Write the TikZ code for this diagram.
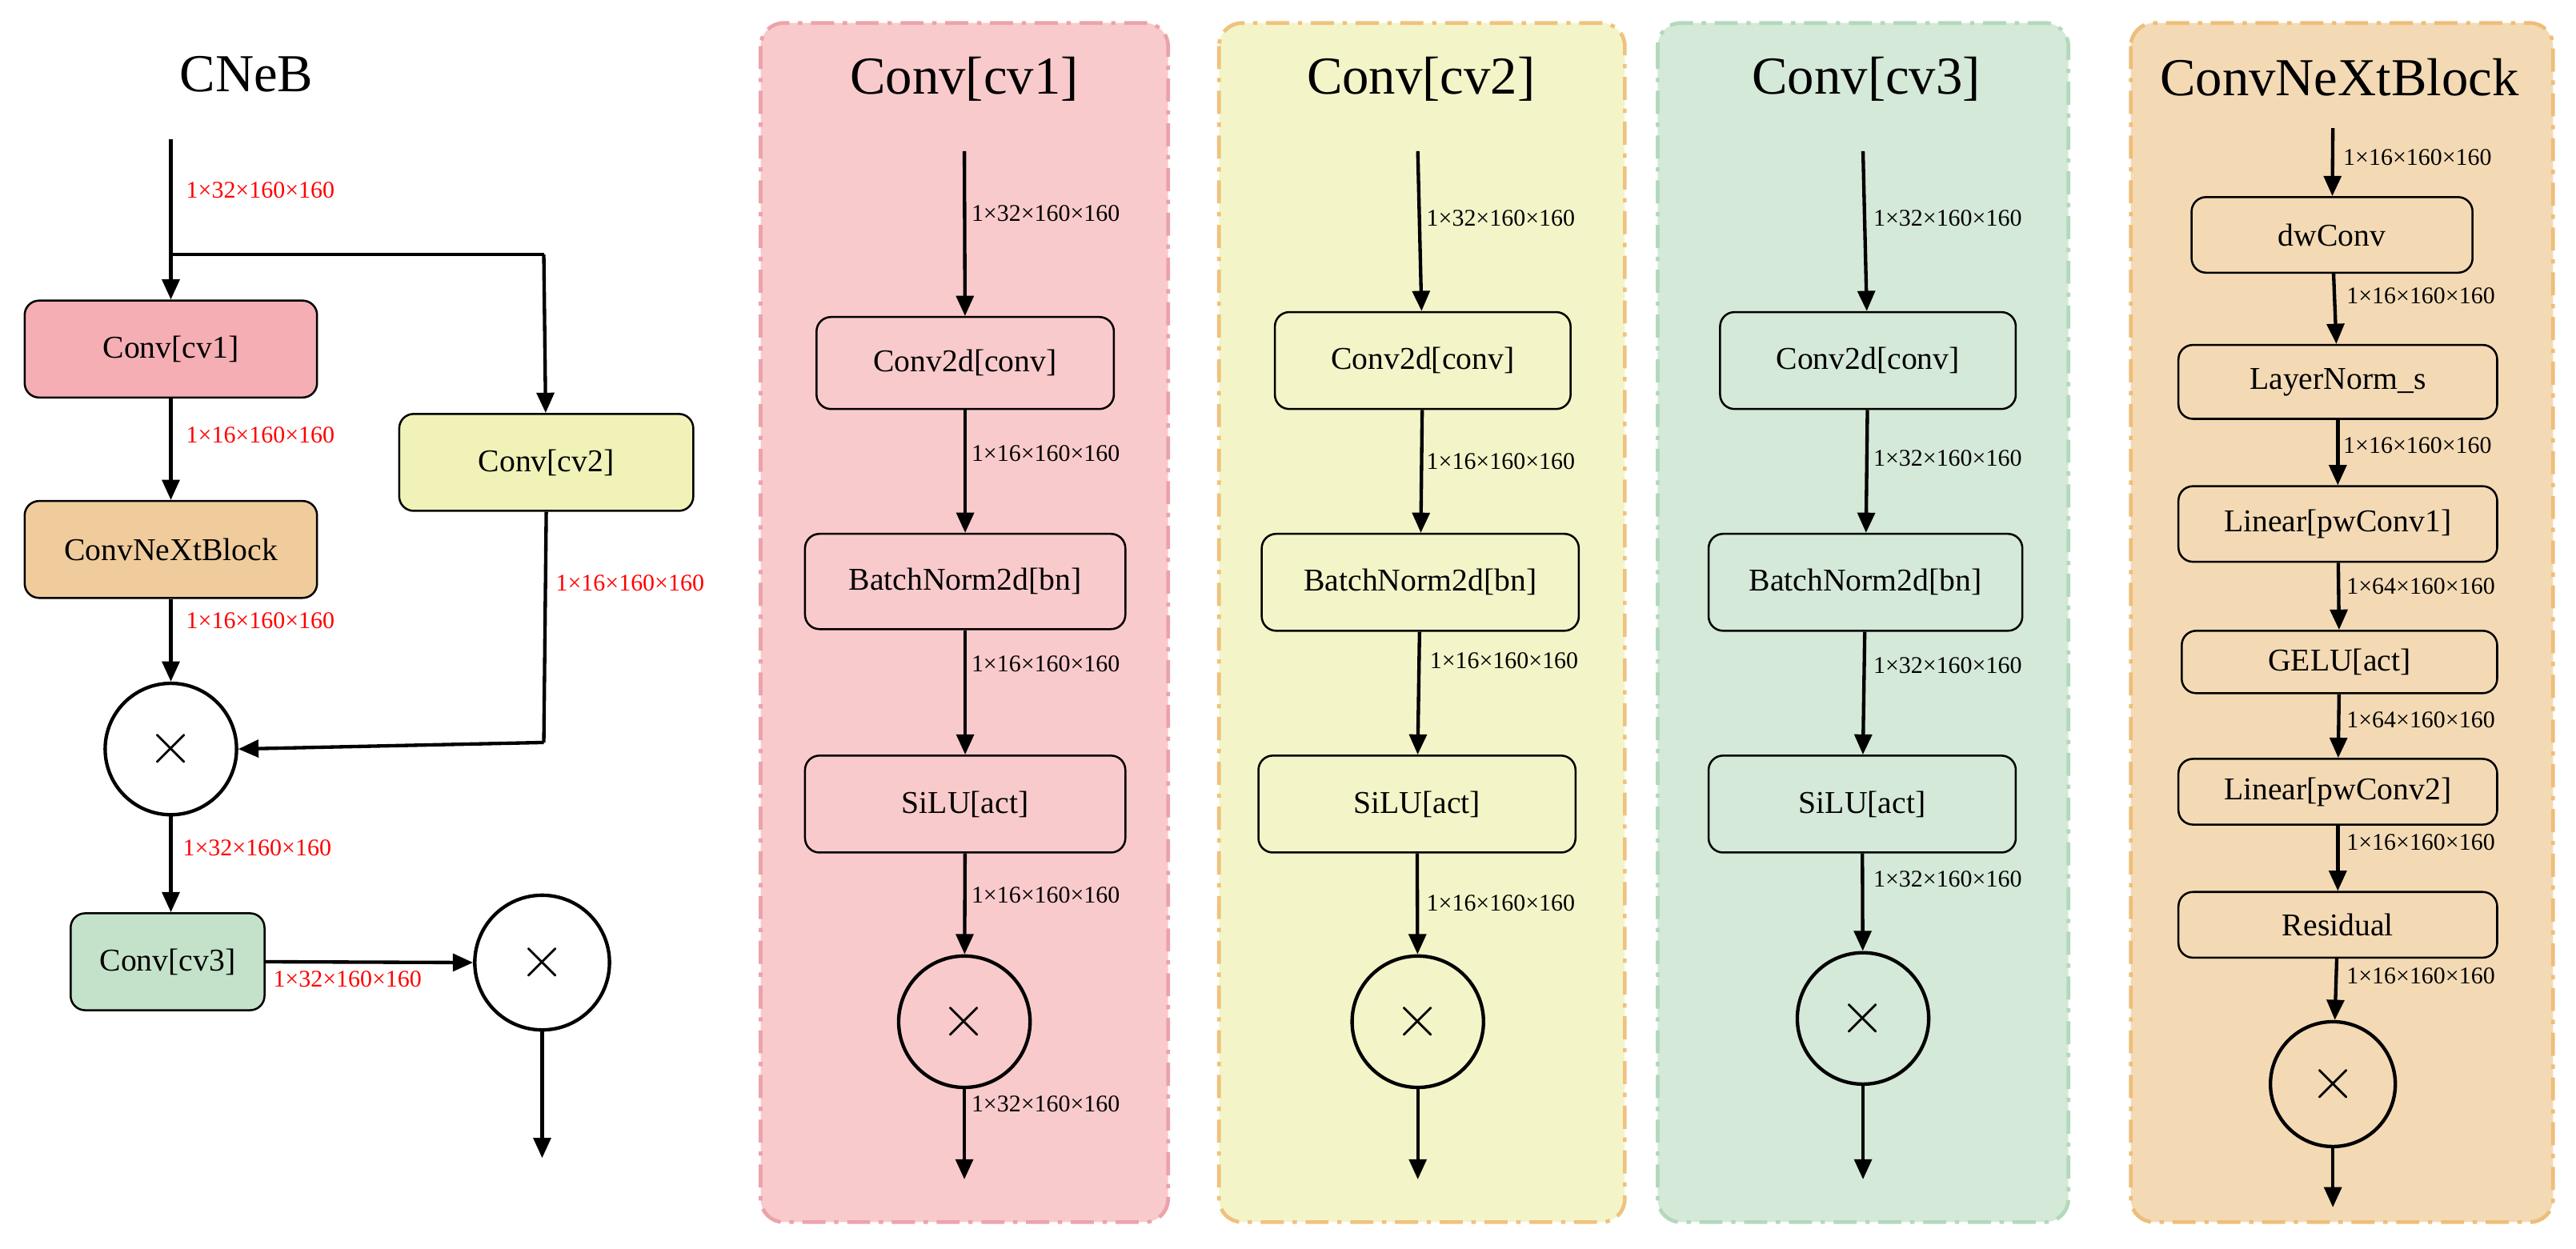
\documentclass[tikz,border=0pt]{standalone}
\usepackage{fontspec}
\setmainfont{Liberation Serif}
\usetikzlibrary{arrows.meta}
\definecolor{pkP}{HTML}{F9CACC}\definecolor{pkB}{HTML}{EBA3AA}
\definecolor{ylP}{HTML}{F4F4C9}\definecolor{ylB}{HTML}{EFC27E}
\definecolor{grP}{HTML}{D4E9D8}\definecolor{grB}{HTML}{B3D9BC}
\definecolor{orP}{HTML}{F3DAB5}\definecolor{orB}{HTML}{EDBE7A}
\definecolor{cvA}{HTML}{F5AEB3}\definecolor{cvN}{HTML}{F0CC9C}
\definecolor{cvB}{HTML}{F1F2B8}\definecolor{cvC}{HTML}{C4E2CA}
\tikzset{
 box/.style={draw,line width=0.7pt,rounded corners=5pt,inner sep=0pt,font=\fontsize{11}{12}\selectfont},
 arr/.style={line width=1.2pt,-{Triangle[length=7pt,width=6pt]}},
 ln/.style={line width=1.2pt},
 circ/.style={draw,circle,line width=1.2pt,inner sep=0pt,font=\fontsize{20}{20}\selectfont},
 lab/.style={anchor=west,inner sep=0pt,font=\fontsize{8.3}{9}\selectfont},
 rlab/.style={lab,text=red},
 ttl/.style={font=\fontsize{18.5}{20}\selectfont},
 panel/.style={line width=1.3pt,rounded corners=8pt,dash pattern=on 8pt off 3pt on 1.5pt off 3pt},
}
\newcommand{\bx}[7]{\node[box,fill=#6,minimum width={(#4-#2)*0.02cm},minimum height={(#5-#3)*0.02cm}] (#1) at ({(#2+#4)/2},{(#3+#5)/2}) {#7};}
\begin{document}
\begin{tikzpicture}[x=0.02cm,y=-0.02cm]
\useasboundingbox (0,0) rectangle (1568,760);
% panels
\draw[panel,draw=pkB,fill=pkP] (463,14) rectangle (711,744);
\draw[panel,draw=ylB,fill=ylP] (742,14) rectangle (989,744);
\draw[panel,draw=grB,fill=grP] (1009,14) rectangle (1259,744);
\draw[panel,draw=orB,fill=orP] (1297,14) rectangle (1554,744);
% left
\node[ttl] (t0) at (150,45) {CNeB};
\coordinate (in0) at (104,85);
\coordinate (br) at (104,155);
\coordinate (brr) at (331,155);
\bx{cv1}{15}{183}{193}{242}{cvA}{Conv[cv1]}
\bx{cnb}{15}{305}{193}{364}{cvN}{ConvNeXtBlock}
\bx{cv2}{243}{252}{422}{311}{cvB}{Conv[cv2]}
\node[circ,minimum size=80*0.02cm] (m1) at (104,456) {$\times$};
\bx{cv3}{43}{556}{161}{615}{cvC}{Conv[cv3]}
\node[circ,minimum size=82*0.02cm] (m2) at (330,586) {$\times$};
\coordinate (o0) at (330,705);
\coordinate (cr) at (331,452);
\draw[arr] (in0) -- (cv1);
\draw[ln] (br) -- (brr);
\draw[arr] (brr) -- (cv2);
\draw[arr] (cv1) -- (cnb);
\draw[arr] (cnb) -- (m1);
\draw[ln] (cv2.south) -- (cr);
\draw[arr] (cr) -- (m1.east);
\draw[arr] (m1) -- (cv3.north -| m1);
\draw[arr] (cv3.east) -- (m2.west);
\draw[arr] (m2) -- (o0);
\node[rlab] (l01) at (113,116) {1×32×160×160};
\node[rlab] (l02) at (113,265) {1×16×160×160};
\node[rlab] (l03) at (113,378) {1×16×160×160};
\node[rlab] (l04) at (338,355) {1×16×160×160};
\node[rlab] (l05) at (111,516) {1×32×160×160};
\node[rlab] (l06) at (166,596) {1×32×160×160};
% panel 1
\node[ttl] (t1) at (587,48) {Conv[cv1]};
\coordinate (i1) at (587,92);
\bx{a1}{497}{193}{678}{249}{pkP}{Conv2d[conv]}
\bx{b1}{490}{325}{685}{383}{pkP}{BatchNorm2d[bn]}
\bx{c1}{490}{460}{685}{519}{pkP}{SiLU[act]}
\node[circ,minimum size=80*0.02cm] (m3) at (587,622) {$\times$};
\coordinate (o1) at (587,718);
\draw[arr] (i1) -- (a1); \draw[arr] (a1) -- (b1); \draw[arr] (b1) -- (c1);
\draw[arr] (c1) -- (m3); \draw[arr] (m3) -- (o1);
\node[lab] (l11) at (591,130) {1×32×160×160};
\node[lab] (l12) at (591,276) {1×16×160×160};
\node[lab] (l13) at (591,404) {1×16×160×160};
\node[lab] (l14) at (591,545) {1×16×160×160};
\node[lab] (l15) at (591,672) {1×32×160×160};
% panel 2
\node[ttl] (t2) at (865,48) {Conv[cv2]};
\coordinate (i2) at (863,92);
\bx{a2}{776}{190}{956}{249}{ylP}{Conv2d[conv]}
\bx{b2}{768}{325}{961}{384}{ylP}{BatchNorm2d[bn]}
\bx{c2}{766}{460}{959}{519}{ylP}{SiLU[act]}
\node[circ,minimum size=80*0.02cm] (m4) at (863,622) {$\times$};
\coordinate (o2) at (863,718);
\draw[arr] (i2) -- (a2); \draw[arr] (a2) -- (b2); \draw[arr] (b2) -- (c2);
\draw[arr] (c2) -- (m4); \draw[arr] (m4) -- (o2);
\node[lab] (l21) at (868,133) {1×32×160×160};
\node[lab] (l22) at (868,281) {1×16×160×160};
\node[lab] (l23) at (870,402) {1×16×160×160};
\node[lab] (l24) at (868,550) {1×16×160×160};
% panel 3
\node[ttl] (t3) at (1136,48) {Conv[cv3]};
\coordinate (i3) at (1134,92);
\bx{a3}{1047}{190}{1227}{249}{grP}{Conv2d[conv]}
\bx{b3}{1040}{325}{1231}{384}{grP}{BatchNorm2d[bn]}
\bx{c3}{1040}{460}{1227}{519}{grP}{SiLU[act]}
\node[circ,minimum size=80*0.02cm] (m5) at (1134,620) {$\times$};
\coordinate (o3) at (1134,718);
\draw[arr] (i3) -- (a3); \draw[arr] (a3) -- (b3); \draw[arr] (b3) -- (c3);
\draw[arr] (c3) -- (m5); \draw[arr] (m5) -- (o3);
\node[lab] (l31) at (1140,133) {1×32×160×160};
\node[lab] (l32) at (1140,279) {1×32×160×160};
\node[lab] (l33) at (1140,405) {1×32×160×160};
\node[lab] (l34) at (1140,535) {1×32×160×160};
% panel 4
\node[ttl] (t4) at (1424,47) {ConvNeXtBlock};
\coordinate (i4) at (1420,78);
\bx{d1}{1334}{120}{1505}{166}{orP}{dwConv}
\bx{d2}{1326}{210}{1520}{255}{orP}{LayerNorm\_s}
\bx{d3}{1326}{296}{1520}{342}{orP}{Linear[pwConv1]}
\bx{d4}{1328}{384}{1520}{422}{orP}{GELU[act]}
\bx{d5}{1326}{462}{1520}{502}{orP}{Linear[pwConv2]}
\bx{d6}{1326}{543}{1520}{583}{orP}{Residual}
\node[circ,minimum size=76*0.02cm] (m6) at (1420,660) {$\times$};
\coordinate (o4) at (1420,735);
\draw[arr] (i4) -- (d1); \draw[arr] (d1) -- (d2); \draw[arr] (d2) -- (d3);
\draw[arr] (d3) -- (d4); \draw[arr] (d4) -- (d5); \draw[arr] (d5) -- (d6);
\draw[arr] (d6) -- (m6); \draw[arr] (m6) -- (o4);
\node[lab] (l41) at (1426,96) {1×16×160×160};
\node[lab] (l42) at (1428,180) {1×16×160×160};
\node[lab] (l43) at (1426,271) {1×16×160×160};
\node[lab] (l44) at (1428,357) {1×64×160×160};
\node[lab] (l45) at (1428,438) {1×64×160×160};
\node[lab] (l46) at (1428,513) {1×16×160×160};
\node[lab] (l47) at (1428,594) {1×16×160×160};
\end{tikzpicture}
\end{document}
